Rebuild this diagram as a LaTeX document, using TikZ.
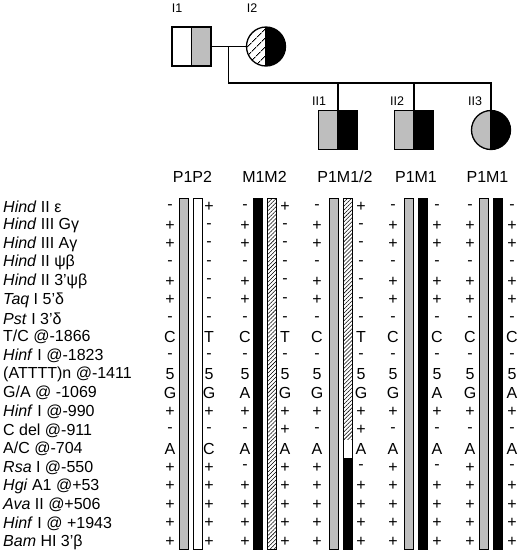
\documentclass[tikz,border=0pt]{standalone}
\usepackage{fontspec}
\setmainfont{Liberation Sans}
\usepackage{tikz}
\usetikzlibrary{patterns.meta,positioning,calc}
\definecolor{allelegray}{HTML}{BEBEBE}

\begin{document}
\begin{tikzpicture}[
		x=1pt,y=-1pt,
		line join=miter,
		sym/.style={draw=black, line width=1.3pt, minimum size=39pt, inner sep=0pt, outer sep=0pt},
		male/.style={sym, rectangle},
		female/.style={sym, circle},
		halves/.style 2 args={path picture={
				\path[#1] (path picture bounding box.south west) rectangle (path picture bounding box.north);
				\path[#2] (path picture bounding box.north) rectangle (path picture bounding box.south east);
				\draw[line width=1.1pt] (path picture bounding box.north) -- (path picture bounding box.south);}},
		sparsehatch/.style={pattern={Lines[angle=45,distance=6.5pt,line width=0.8pt]}},
		densehatch/.style={pattern={Lines[angle=45,distance=2.8pt,line width=0.55pt]}},
		link/.style={line width=1.3pt},
		gen/.style={font=\fontsize{12.5}{15}\selectfont, inner sep=0pt},
		rowlabel/.style={font=\fontsize{16}{18}\selectfont, anchor=west, inner sep=0pt},
		hdr/.style={font=\fontsize{16}{18}\selectfont, inner sep=0pt},
		val/.style={font=\fontsize{16}{18}\selectfont, inner sep=0pt},
		bar/.style={draw=black, line width=0.7pt, minimum width=9pt, minimum height=351pt, inner sep=0pt, anchor=north},
		graybar/.style={bar, fill=allelegray},
		whitebar/.style={bar, fill=white},
		blackbar/.style={bar, fill=black},
		hatchbar/.style={bar, densehatch}
	]
	\useasboundingbox (0,0) rectangle (520,550);
	
	% Pedigree
	\node[male, halves={fill=white}{fill=allelegray}] (i1) at (191.5,46.5) {};
	\node[female, halves={sparsehatch}{fill=black}] (i2) at (266,46.5) {};
	\node[male, halves={fill=allelegray}{fill=black}] (ii1) at (338,130) {};
	\node[male, halves={fill=allelegray}{fill=black}] (ii2) at (414,130) {};
	\node[female, halves={fill=allelegray}{fill=black}] (ii3) at (491,130) {};
	\node[gen] (lab-i1) at ([xshift=-14.5pt,yshift=38pt]i1.center) {I1};
	\node[gen] (lab-i2) at ([xshift=-14pt,yshift=38pt]i2.center) {I2};
	\node[gen] (lab-ii1) at ([xshift=-19pt,yshift=29pt]ii1.center) {II1};
	\node[gen] (lab-ii2) at ([xshift=-17pt,yshift=29pt]ii2.center) {II2};
	\node[gen] (lab-ii3) at ([xshift=-16pt,yshift=29pt]ii3.center) {II3};
	\coordinate (mate) at ($(i1.east)!0.5!(i2.west)$);
	\coordinate (sib) at (mate |- 0,83);
	\draw[link] (i1.east) -- (i2.west);
	\draw[link] (mate) -- (sib) -- (sib -| ii3) -- (ii3.north);
	\draw[link] (sib -| ii1) -- (ii1.north);
	\draw[link] (sib -| ii2) -- (ii2.north);
	
	% Column headers
	\node[hdr] (h-i1) at (192.5,177) {P1P2};
	\node[hdr] (h-i2) at (264.5,177) {M1M2};
	\node[hdr] (h-ii1) at (345,177) {P1M1/2};
	\node[hdr] (h-ii2) at (416,177) {P1M1};
	\node[hdr] (h-ii3) at (487.5,177) {P1M1};
	
	% Haplotype bars
	\node[graybar] (b-i1p) at (183.5,198) {};
	\node[whitebar] (b-i1q) at (197.5,198) {};
	\node[blackbar] (b-i2m) at (257.5,198) {};
	\node[hatchbar] (b-i2n) at (271.5,198) {};
	\node[graybar] (b-ii1p) at (333.5,198) {};
	\path[densehatch] (343,198) rectangle (352,439.6);
	\fill[white] (343,439.6) rectangle (352,458.2);
	\fill[black] (343,458.2) rectangle (352,549);
	\node[bar] (b-ii1m) at (347.5,198) {};
	\node[graybar] (b-ii2p) at (408.5,198) {};
	\node[blackbar] (b-ii2m) at (422.5,198) {};
	\node[graybar] (b-ii3p) at (483.5,198) {};
	\node[blackbar] (b-ii3m) at (497.5,198) {};
	
	% Polymorphic sites
	\foreach \lab [count=\r] in {\textit{Hind} II ε, \textit{Hind} III Gγ, \textit{Hind} III Aγ, \textit{Hind} II ψβ,
		\textit{Hind} II 3’ψβ, \textit{Taq} I 5’δ, \textit{Pst} I 3’δ, T/C @-1866, \textit{Hinf} I @-1823,
		(ATTTT)n @-1411, G/A @ -1069, \textit{Hinf} I @-990, C del @-911, A/C @-704, \textit{Rsa} I @-550,
		\textit{Hgi} A1 @+53, \textit{Ava} II @+506, \textit{Hinf} I @ +1943, \textit{Bam} HI 3’β}
	\node[rowlabel] (site-\r) at (3,{207+(\r-1)*18.61}) {\lab};
	
	% Alleles, one list per chromosome
	\foreach \x/\col/\alleles in {
		170/a/{-,+,+,-,+,+,-,C,-,5,G,+,-,A,+,+,+,+,+},
		209/b/{+,-,-,-,-,-,-,T,-,5,G,+,-,C,+,+,+,+,+},
		245/c/{-,+,+,-,+,+,-,C,-,5,A,+,-,A,-,+,+,+,+},
		285/d/{+,-,-,-,-,-,-,T,-,5,G,+,+,A,+,+,+,+,+},
		317/e/{-,+,+,-,+,+,-,C,-,5,G,+,-,A,+,+,+,+,+},
		361/f/{+,-,-,-,-,-,-,T,-,5,G,+,+,A,-,+,+,+,+},
		393/g/{-,+,+,-,+,+,-,C,-,5,G,+,-,A,+,+,+,+,+},
		437/h/{-,+,+,-,+,+,-,C,-,5,A,+,-,A,-,+,+,+,+},
		470/i/{-,+,+,-,+,+,-,C,-,5,G,+,-,A,+,+,+,+,+},
		512/j/{-,+,+,-,+,+,-,C,-,5,A,+,-,A,-,+,+,+,+}}
	\foreach \v [count=\r] in \alleles
	\node[val] (\col-\r) at (\x,{207+(\r-1)*18.61}) {\v};
	
\end{tikzpicture}
\end{document}
